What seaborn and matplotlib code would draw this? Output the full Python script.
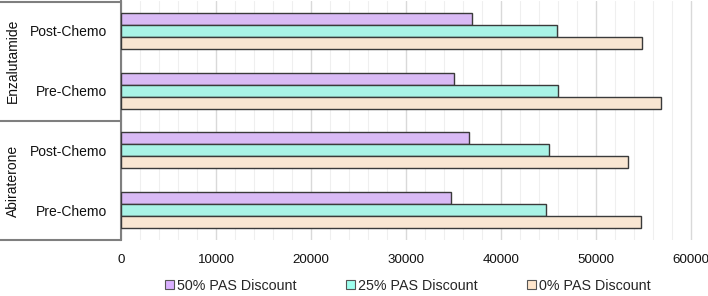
import matplotlib
matplotlib.use("Agg")
import matplotlib.pyplot as plt
import seaborn as sns
import pandas as pd
from matplotlib.lines import Line2D
from matplotlib.patches import Patch
from matplotlib.ticker import MultipleLocator

drugs = ["Enzalutamide", "Enzalutamide", "Abiraterone", "Abiraterone"]
settings = ["Post-Chemo", "Pre-Chemo", "Post-Chemo", "Pre-Chemo"]
series_names = ["50% PAS Discount", "25% PAS Discount", "0% PAS Discount"]
vals_50 = [36960, 35040, 36670, 34710]
vals_25 = [45880, 46000, 45060, 44780]
vals_0 = [54900, 56890, 53370, 54770]
xticks = [0, 10000, 20000, 30000, 40000, 50000, 60000]
colors = ["#DAB0FF", "#9DFFEE", "#FFE6CC"]

sns.set_theme(style="white")
plt.rcParams["font.family"] = ["Liberation Sans", "DejaVu Sans"]

rows = []
for i in range(len(settings)):
    cat = f"{drugs[i]}|{settings[i]}"
    for name, vals in zip(series_names, [vals_50, vals_25, vals_0]):
        rows.append({"cat": cat, "series": name, "value": vals[i]})
df = pd.DataFrame(rows)
order = [f"{d}|{s}" for d, s in zip(drugs, settings)]

W, H = 708, 296
fig = plt.figure(figsize=(W / 100, H / 100), dpi=100)
left_px, right_px, top_px, bot_px = 121, 708, 1.0, 240
ax = fig.add_axes([left_px / W, 1 - bot_px / H, (right_px - left_px) / W, (bot_px - top_px) / H])

sns.barplot(data=df, y="cat", x="value", hue="series", order=order,
            hue_order=series_names, palette=colors, orient="h", width=0.6,
            edgecolor="#3a3a3a", linewidth=1.0, ax=ax, legend=False, zorder=3)

ax.set_xlim(0, 61800)
ax.set_ylim(3.5, -0.5)
ax.xaxis.set_major_locator(MultipleLocator(10000))
ax.xaxis.set_minor_locator(MultipleLocator(2000))
ax.set_xticks(xticks)
ax.set_xticklabels([str(t) for t in xticks], fontsize=9.6, color="#111111")
ax.grid(True, axis="x", which="major", color="#D9D9D9", linewidth=1.0, zorder=0)
ax.grid(True, axis="x", which="minor", color="#EFEFEF", linewidth=0.8, zorder=0)
ax.set_axisbelow(True)
ax.tick_params(axis="x", which="both", length=0, pad=10)
ax.set_yticks(range(len(settings)))
ax.set_yticklabels(settings, fontsize=10, color="#111111")
ax.tick_params(axis="y", length=0, pad=10)
ax.set_xlabel("")
ax.set_ylabel("")
for s in ["top", "right", "bottom"]:
    ax.spines[s].set_visible(False)
ax.spines["left"].set_color("#7f7f7f")
ax.spines["left"].set_linewidth(1.5)

# group box lines
lc = "#7f7f7f"
for ypx in [1.5, 121, 240]:
    fig.add_artist(Line2D([0, left_px / W], [1 - ypx / H, 1 - ypx / H],
                          transform=fig.transFigure, color=lc, linewidth=1.5))
fig.text(13 / W, 1 - 61 / H, "Enzalutamide", rotation=90, ha="center", va="center",
         fontsize=10, color="#111111")
fig.text(13 / W, 1 - 181 / H, "Abiraterone", rotation=90, ha="center", va="center",
         fontsize=10, color="#111111")

handles = [Patch(facecolor=c, edgecolor="#555555", linewidth=0.8) for c in colors]
fig.legend(handles, series_names, loc="center", bbox_to_anchor=(408 / W, 1 - 286 / H),
           ncol=3, frameon=False, fontsize=10.3, handlelength=0.6, handleheight=0.6,
           handletextpad=0.25, columnspacing=3.45, borderaxespad=0, borderpad=0)

fig.savefig("out.png", dpi=100)
